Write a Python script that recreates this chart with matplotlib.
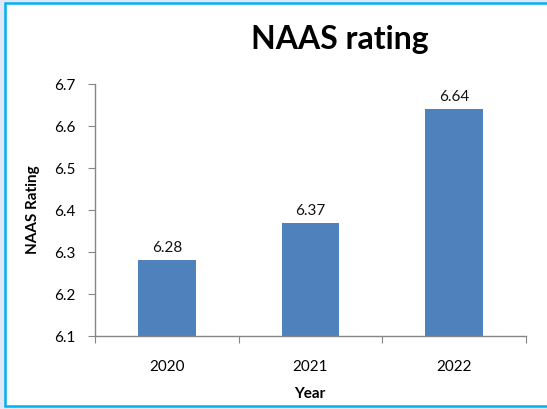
import matplotlib
matplotlib.use("Agg")
import matplotlib.pyplot as plt
from matplotlib.patches import Rectangle

years = ["2020", "2021", "2022"]
ratings = [6.28, 6.37, 6.64]
yticks = [6.1, 6.2, 6.3, 6.4, 6.5, 6.6, 6.7]

plt.rcParams['font.family'] = ['Lato', 'DejaVu Sans']

W, H = 547, 409
fig = plt.figure(figsize=(W/100, H/100), dpi=100)
fig.patch.set_facecolor('#dfe8f6')
# white panel with blue border
fig.patches.append(Rectangle((5/W, 3/H), (W-5)/W + 0.01, (406-3)/H, transform=fig.transFigure,
                             facecolor='white', edgecolor='#00b0f0', linewidth=1.8, zorder=-5))

ax = fig.add_axes([95/W, (H-336)/H, (526-95)/W, (336-84)/H])
ax.set_zorder(2)
ax.set_facecolor('none')
x = list(range(len(years)))
bars = ax.bar(x, [r - 6.1 for r in ratings], bottom=6.1, width=0.40, color='#4f81bd', zorder=2)
for xi, r in zip(x, ratings):
    ax.text(xi, r + 0.012, f"{r:.2f}", ha='center', va='bottom', fontsize=11, color='#111111')

ax.set_ylim(6.1, 6.7)
ax.set_xlim(-0.5, 2.5)
ax.set_yticks(yticks)
ax.set_yticklabels([f"{t:.1f}" for t in yticks])
ax.set_xticks([-0.5, 0.5, 1.5, 2.5])
ax.set_xticklabels([])
ax.set_xticks(x, minor=True)
ax.set_xticklabels(years, minor=True)
ax.tick_params(axis='x', which='minor', length=0, pad=17, labelsize=11)
ax.tick_params(axis='x', which='major', length=5, direction='out', color='#868686')
ax.tick_params(axis='y', length=5, direction='out', color='#868686', labelsize=11, pad=9)
for s in ['top', 'right']:
    ax.spines[s].set_visible(False)
for s in ['left', 'bottom']:
    ax.spines[s].set_color('#868686')
    ax.spines[s].set_linewidth(1.0)

fig.text(340/W, 1 - 40/H, "NAAS rating", ha='center', va='center', fontsize=23, fontweight='bold', zorder=3)
fig.text(33/W, 1 - 210/H, "NAAS Rating", ha='center', va='center', rotation=90, fontsize=11, fontweight='bold', zorder=3)
fig.text(310/W, 1 - 394/H, "Year", ha='center', va='center', fontsize=11, fontweight='bold', zorder=3)

fig.savefig("out.png", dpi=100, facecolor=fig.get_facecolor())
